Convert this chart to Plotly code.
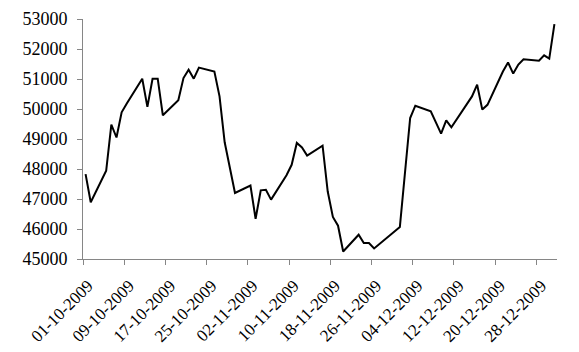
import plotly.graph_objects as go
import pandas as pd

dates = [
    "2009-10-01", "2009-10-02", "2009-10-05", "2009-10-06", "2009-10-07", "2009-10-08", "2009-10-09",
    "2009-10-12", "2009-10-13", "2009-10-14", "2009-10-15", "2009-10-16",
    "2009-10-19", "2009-10-20", "2009-10-21", "2009-10-22", "2009-10-23",
    "2009-10-26", "2009-10-27", "2009-10-28", "2009-10-30",
    "2009-11-02", "2009-11-03", "2009-11-04", "2009-11-05", "2009-11-06",
    "2009-11-09", "2009-11-10", "2009-11-11", "2009-11-12", "2009-11-13",
    "2009-11-16", "2009-11-17", "2009-11-18", "2009-11-19", "2009-11-20",
    "2009-11-23", "2009-11-24", "2009-11-25", "2009-11-26",
    "2009-12-01", "2009-12-03", "2009-12-04",
    "2009-12-07", "2009-12-09", "2009-12-10", "2009-12-11",
    "2009-12-15", "2009-12-16", "2009-12-17", "2009-12-18",
    "2009-12-21", "2009-12-22", "2009-12-23", "2009-12-24", "2009-12-25",
    "2009-12-28", "2009-12-29", "2009-12-30", "2009-12-31",
]
values = [
    47830, 46890, 47940, 49480, 49050, 49890, 50180,
    51010, 50070, 51010, 51010, 49790,
    50290, 51030, 51310, 51010, 51380,
    51250, 50420, 48890, 47200,
    47450, 46340, 47290, 47310, 46980,
    47790, 48140, 48870, 48720, 48450,
    48780, 47250, 46400, 46110, 45250,
    45810, 45530, 45530, 45350,
    46070, 49700, 50110,
    49920, 49180, 49620, 49390,
    50420, 50810, 49980, 50140,
    51250, 51550, 51180, 51480, 51660,
    51610, 51790, 51680, 52830,
]

tick_dates = ["2009-10-01", "2009-10-09", "2009-10-17", "2009-10-25", "2009-11-02", "2009-11-10",
              "2009-11-18", "2009-11-26", "2009-12-04", "2009-12-12", "2009-12-20", "2009-12-28"]
tick_labels = ["01-10-2009", "09-10-2009", "17-10-2009", "25-10-2009", "02-11-2009", "10-11-2009",
               "18-11-2009", "26-11-2009", "04-12-2009", "12-12-2009", "20-12-2009", "28-12-2009"]
y_ticks = [45000, 46000, 47000, 48000, 49000, 50000, 51000, 52000, 53000]

# points sit in the middle of each day (date axis, between tick marks)
x = pd.to_datetime(dates) + pd.Timedelta(hours=12)

fig = go.Figure()
fig.add_trace(go.Scatter(x=x, y=values, mode="lines",
                         line=dict(color="black", width=2), showlegend=False,
                         hoverinfo="skip"))

axis_col = "#868686"
font = dict(family="Liberation Serif", size=18, color="black")
xfont = dict(family="Liberation Serif", size=17, color="black")
fig.update_layout(
    width=579, height=352,
    margin=dict(l=83, r=22, t=19, b=93),
    paper_bgcolor="white", plot_bgcolor="white",
    font=font,
    xaxis=dict(
        type="date", range=["2009-10-01", "2010-01-01"],
        tickvals=tick_dates, ticktext=tick_labels, tickangle=-45,
        showgrid=False, zeroline=False, automargin=False,
        showline=True, linecolor=axis_col, linewidth=1,
        ticks="outside", ticklen=5, tickcolor=axis_col, tickwidth=1,
        tickfont=xfont, ticklabelstandoff=4, ticklabelshift=5,
    ),
    yaxis=dict(
        range=[45000, 53000], tickvals=y_ticks, tickformat="d",
        showgrid=False, zeroline=False, automargin=False,
        showline=True, linecolor=axis_col, linewidth=1,
        ticks="outside", ticklen=5, tickcolor=axis_col, tickwidth=1,
        tickfont=font, ticklabelstandoff=6,
    ),
)
fig.write_html("out.html", config={"displayModeBar": False},
               post_script="document.body.style.margin='0';document.body.style.overflow='hidden';")
